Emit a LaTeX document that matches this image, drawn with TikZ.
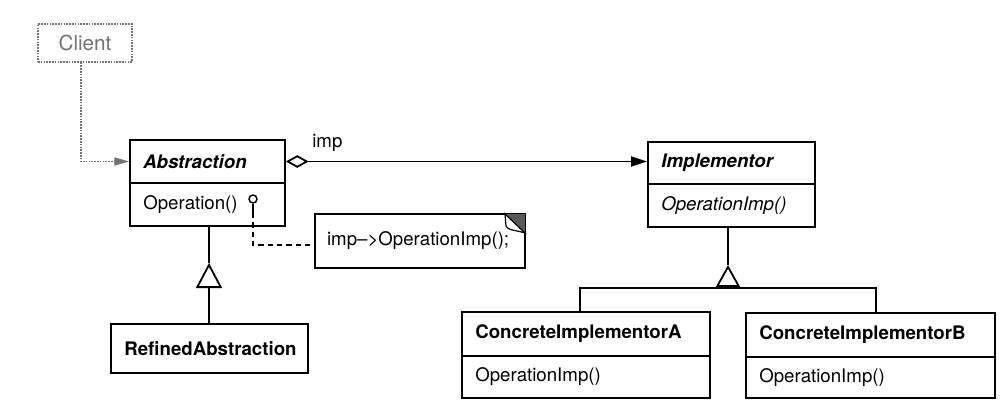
\documentclass[tikz,border=0pt]{standalone}
\usepackage{fontspec}
\setmainfont{TeX Gyre Heros}
\usetikzlibrary{arrows.meta}
\begin{document}
\begin{tikzpicture}[x=0.75pt,y=-0.75pt,
  every node/.style={font=\fontsize{14}{17}\selectfont},
  cls/.style={draw, line width=1.35pt, rectangle, inner xsep=10pt, inner ysep=0pt, align=left},
  line/.style={line width=1.35pt},
  dashline/.style={line width=1.35pt, dash pattern=on 4pt off 3pt},
  greydot/.style={draw=black!55, line width=0.9pt, dash pattern=on 1.2pt off 0.9pt},
]
\useasboundingbox (0,0) rectangle (1005,417);
\fill[white] (0,0) rectangle (1005,417);

% Client
\node[greydot, rectangle, minimum width=70.5pt, minimum height=28.5pt, inner sep=0pt, text=black!55, font=\fontsize{15.5}{18}\selectfont] (client) at (85,43) {Client};

% Abstraction
\node[cls, minimum width=116.25pt, minimum height=32.25pt, text width=96.25pt] (absT) at (207.5,161.5) {\bfseries\itshape Abstraction};
\node[cls, minimum width=116.25pt, minimum height=32.25pt, text width=96.25pt] (absM) at (207.5,204.5) {Operation()};
\node[draw, circle, line width=1.1pt, minimum size=6pt, inner sep=0pt] (opc) at (253,199) {};

% Implementor
\node[cls, minimum width=125.25pt, minimum height=31.5pt, text width=105.25pt] (impT) at (731.5,163) {\bfseries\itshape Implementor};
\node[cls, minimum width=125.25pt, minimum height=32.25pt, text width=105.25pt] (impM) at (731.5,205.5) {\itshape OperationImp()};

% RefinedAbstraction
\node[cls, minimum width=147.75pt, minimum height=36.75pt, text width=127.75pt, align=center] (refA) at (209.5,348.5) {\bfseries RefinedAbstraction};

% Concrete implementors
\node[cls, minimum width=186pt, minimum height=33pt, text width=166pt] (cAT) at (586,334) {\bfseries ConcreteImplementorA};
\node[cls, minimum width=186pt, minimum height=31.5pt, text width=166pt] (cAM) at (586,377) {OperationImp()};
\node[cls, minimum width=186.75pt, minimum height=33pt, text width=166.75pt] (cBT) at (870.5,335) {\bfseries ConcreteImplementorB};
\node[cls, minimum width=186.75pt, minimum height=30.75pt, text width=166.75pt] (cBM) at (870.5,377.5) {OperationImp()};

% Note
\node[cls, inner xsep=9pt, minimum width=157.5pt, minimum height=40.5pt, text width=139.5pt] (note) at (420,241) {imp--{>}OperationImp();};
\fill[black!65] (505,214) -- (525,214) -- (525,233) -- cycle;
\draw[line width=0.9pt, fill=white] (505,214) -- (525,233) .. controls (515,230) and (507,230) .. (506,226) -- cycle;

% Client -> Abstraction
\draw[greydot, -{Triangle[length=11pt,width=6pt,fill=black!55]}] ([xshift=-3pt]client.south) |- (absT.west);

% Aggregation
\draw[line, {Diamond[open,length=17pt,width=9.5pt]}-{Triangle[length=12pt,width=7.5pt]}] (absT.east) -- (absT.east -| impT.west);
\node[anchor=south west, inner sep=0pt] (implbl) at (312,152) {imp};

% Note link
\coordinate (stemend) at (253,213);
\draw[line width=1.1pt] (opc.south) -- (stemend);
\draw[dashline] (stemend) |- ([yshift=-3pt]note.west);

% Generalization RefinedAbstraction -> Abstraction
\coordinate (t1apex) at (209,263);
\draw[line, -{Triangle[open,length=18.75pt,width=19.5pt]}] (refA.north -| t1apex) -- (t1apex);
\draw[line] (t1apex) -- (t1apex |- absM.south);

% Generalization Concrete -> Implementor
\coordinate (t2apex) at (728,265);
\coordinate (t2base) at (728,288);
\draw[line, -{Triangle[open,length=16.5pt,width=18pt]}] ([xshift=-4.5pt]cAT.north) |- (t2base) -- (t2apex);
\draw[line] ([xshift=4.125pt]cBT.north) |- (t2base);
\draw[line] (t2apex) -- (t2apex |- impM.south);
\end{tikzpicture}
\end{document}
